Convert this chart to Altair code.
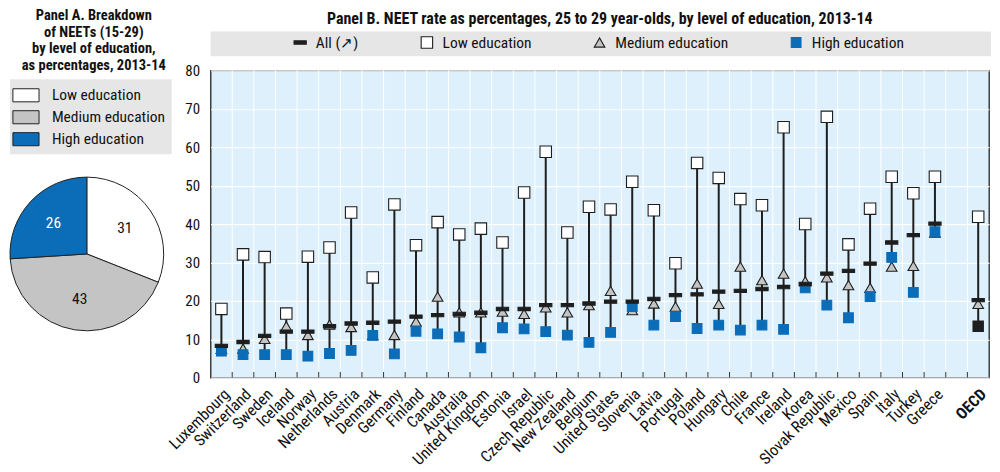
import altair as alt
import pandas as pd

FONT = "Liberation Sans Narrow, Roboto Condensed, Arial Narrow, Roboto, sans-serif"

countries = ["Luxembourg", "Switzerland", "Sweden", "Iceland", "Norway", "Netherlands",
             "Austria", "Denmark", "Germany", "Finland", "Canada", "Australia",
             "United Kingdom", "Estonia", "Israel", "Czech Republic", "New Zealand",
             "Belgium", "United States", "Slovenia", "Latvia", "Portugal", "Poland",
             "Hungary", "Chile", "France", "Ireland", "Korea", "Slovak Republic",
             "Mexico", "Spain", "Italy", "Turkey", "Greece", "OECD"]
all_vals = [8.3, 9.3, 10.9, 12.0, 12.0, 13.4, 14.1, 14.3, 14.6, 15.9, 16.3, 16.6,
            16.9, 17.9, 17.9, 18.9, 18.9, 19.3, 19.8, 19.8, 20.5, 21.5, 21.7,
            22.4, 22.6, 23.1, 23.6, 24.4, 27.1, 27.8, 29.7, 35.2, 37.1, 40.1, 20.2]
low_vals = [17.9, 32.1, 31.4, 16.7, 31.5, 33.9, 43.0, 26.1, 45.1, 34.5, 40.5, 37.3,
            38.8, 35.2, 48.2, 58.8, 37.8, 44.5, 43.8, 51.0, 43.6, 29.8, 55.9,
            52.0, 46.5, 44.9, 65.2, 40.0, 67.9, 34.7, 44.0, 52.3, 48.0, 52.3, 41.9]
med_vals = [7.5, 7.6, 10.1, 13.4, 11.1, 13.8, 13.2, 11.1, 11.1, 14.6, 21.1, 17.0,
            17.0, 17.2, 16.6, 18.3, 17.0, 18.9, 22.6, 17.6, 19.3, 18.5, 24.5,
            19.2, 28.9, 25.4, 27.1, 25.1, 26.1, 24.1, 23.4, 28.9, 29.1, 37.8, 19.2]
high_vals = [6.9, 6.0, 6.0, 6.0, 5.6, 6.3, 7.1, 11.0, 6.2, 12.1, 11.4, 10.6,
             7.8, 13.0, 12.7, 12.0, 11.1, 9.2, 11.8, 18.5, 13.7, 15.9, 12.8,
             13.7, 12.4, 13.7, 12.6, 23.4, 18.9, 15.6, 21.1, 31.3, 22.2, 38.0, 13.4]

pie_levels = ["Low education", "Medium education", "High education"]
pie_values = [31, 43, 26]

series_names = ["All (↗)", "Low education", "Medium education", "High education"]
y_ticks = [0, 10, 20, 30, 40, 50, 60, 70, 80]
GAP = " "
x_domain = countries[:-1] + [GAP, "OECD"]

BLUE = "#0B6CB8"
GREY = "#C4C4C4"
DARK = "#1E1E1E"
DASH = "M-1,-0.27H1V0.27H-1Z"

# ---------- long data ----------
rows = []
for s, vals in [("Low education", low_vals), ("Medium education", med_vals),
                ("High education", high_vals), ("All (↗)", all_vals)]:
    for c, v in zip(countries, vals):
        if c == "OECD" and s == "High education":
            continue
        rows.append({"country": c, "series": s, "value": v})
points_df = pd.DataFrame(rows)

oecd_high = pd.DataFrame({"country": ["OECD"], "value": [high_vals[-1]]})

range_df = pd.DataFrame({
    "country": countries,
    "lo": [min(a, b, c) for a, b, c in zip(low_vals, med_vals, high_vals)],
    "hi": [max(a, b, c) for a, b, c in zip(low_vals, med_vals, high_vals)],
})

bounds_df = pd.DataFrame({"country": x_domain[1:]})

W, H = 780, 308

xscale = alt.Scale(domain=x_domain, paddingInner=0, paddingOuter=0)
yscale = alt.Scale(domain=[0, 80], nice=False)

x_axis = alt.Axis(title=None, labelAngle=-45, labelFontSize=16, labelColor="#111",
                  labelFont=FONT, ticks=False, domain=False, labelPadding=8, grid=False,
                  labelFontWeight=alt.expr("datum.value == 'OECD' ? 'bold' : 'normal'"))
y_axis = alt.Axis(title=None, values=y_ticks, labelFontSize=15, labelFont=FONT,
                  labelColor="#111", ticks=False, domain=False, grid=True,
                  gridColor="white", gridWidth=1.2, labelPadding=11)

x_enc = alt.X("country:N", scale=xscale, sort=x_domain, axis=x_axis)

base_band = alt.Chart(pd.DataFrame({"k": [0]})).mark_rect(color="#E6E6E6").encode(
    x=alt.value(0), x2=alt.value(W + 2), y=alt.value(-39), y2=alt.value(-14))

vgrid = alt.Chart(bounds_df).mark_rule(color="white", strokeWidth=1).encode(
    x=alt.X("country:N", scale=xscale, sort=x_domain, bandPosition=0, axis=x_axis),
    y=alt.datum(0, scale=yscale, axis=y_axis), y2=alt.datum(80))

ticks = alt.Chart(bounds_df).mark_rule(color="#333", strokeWidth=1).encode(
    x=alt.X("country:N", scale=xscale, sort=x_domain, bandPosition=0, axis=x_axis),
    y=alt.datum(0, scale=yscale, axis=y_axis), y2=alt.datum(1.5))

rules = alt.Chart(range_df).mark_rule(color=DARK, strokeWidth=2).encode(
    x=x_enc,
    y=alt.Y("lo:Q", scale=yscale, axis=y_axis),
    y2="hi:Q")

leg = alt.Legend(title=None, orient="none", legendX=82, legendY=-36,
                 direction="horizontal", columns=4, columnPadding=60,
                 labelFont=FONT, labelFontSize=15.5, labelColor="#111",
                 symbolStrokeWidth=1.1, labelOffset=8)

points = alt.Chart(points_df).mark_point(filled=True, opacity=1, strokeWidth=1.1).encode(
    x=alt.X("country:N", scale=xscale, sort=x_domain, axis=x_axis),
    y=alt.Y("value:Q", scale=yscale, axis=y_axis),
    shape=alt.Shape("series:N", scale=alt.Scale(domain=series_names,
                    range=[DASH, "square", "triangle-up", "square"]), legend=leg),
    fill=alt.Fill("series:N", scale=alt.Scale(domain=series_names,
                  range=[DARK, "white", GREY, BLUE]), legend=leg),
    stroke=alt.Stroke("series:N", scale=alt.Scale(domain=series_names,
                      range=[DARK, DARK, DARK, BLUE]), legend=leg),
    size=alt.Size("series:N", scale=alt.Scale(domain=series_names,
                  range=[150, 95, 150, 90]), legend=leg),
)

oecd_pt = alt.Chart(oecd_high).mark_point(filled=True, shape="square", size=90,
                                          fill=DARK, stroke=DARK, opacity=1).encode(
    x=alt.X("country:N", scale=xscale, sort=x_domain, axis=x_axis),
    y=alt.Y("value:Q", scale=yscale, axis=y_axis))

main = alt.layer(base_band, vgrid, ticks, rules, points, oecd_pt).properties(
    width=W, height=H,
    view=alt.ViewBackground(fill="#DDF0FB", stroke="#222", strokeWidth=1.3),
    title=alt.TitleParams("Panel B. NEET rate as percentages, 25 to 29 year-olds, by level of education, 2013-14",
                          font=FONT, fontSize=16, fontWeight="bold", color="#111",
                          anchor="middle", offset=4),
)

# ---------- pie ----------
pie_df = pd.DataFrame({"level": pie_levels, "value": pie_values, "order": [0, 1, 2]})
pie_base = alt.Chart(pie_df).encode(
    theta=alt.Theta("value:Q", stack=True),
    order=alt.Order("order:Q"),
)
arcs = pie_base.mark_arc(outerRadius=77, stroke="#222", strokeWidth=1).encode(
    x=alt.value(71), y=alt.value(184),
    fill=alt.Fill("level:N", scale=alt.Scale(domain=pie_levels, range=["white", GREY, BLUE]),
                  legend=alt.Legend(title=None, orient="none", legendX=-6, legendY=9,
                                    fillColor="#E6E6E6", padding=6, rowPadding=3,
                                    symbolType="M-1.4,-0.7H1.4V0.7H-1.4Z", symbolSize=350,
                                    symbolStrokeColor="#222", symbolStrokeWidth=1,
                                    labelFont=FONT, labelFontSize=15.5, labelColor="#111",
                                    labelOffset=16, labelLimit=200)),
)
pie_text = pie_base.mark_text(radius=46, font=FONT, fontSize=15.5).encode(
    x=alt.value(71), y=alt.value(184),
    text=alt.Text("value:Q"),
    color=alt.Color("level:N", scale=alt.Scale(domain=pie_levels, range=["#111", "#111", "white"]),
                    legend=None),
)
pie = alt.layer(arcs, pie_text).properties(
    width=156, height=H,
    view=alt.ViewBackground(strokeOpacity=0, fillOpacity=0),
    title=alt.TitleParams(["Panel A. Breakdown", "of NEETs (15-29)", "by level of education,",
                           "as percentages, 2013-14"],
                          font=FONT, fontSize=14.5, fontWeight="bold", color="#111",
                          anchor="middle", offset=-3, lineHeight=16.5),
).resolve_scale(color="independent")

chart = alt.hconcat(pie, main, spacing=39, bounds="flush").resolve_scale(
    fill="independent", color="independent", shape="independent",
    stroke="independent", size="independent").properties(
    padding={"left": 0, "top": 0, "right": 0, "bottom": 0})

chart.save("out.html", embed_options={"renderer": "svg", "actions": False})
